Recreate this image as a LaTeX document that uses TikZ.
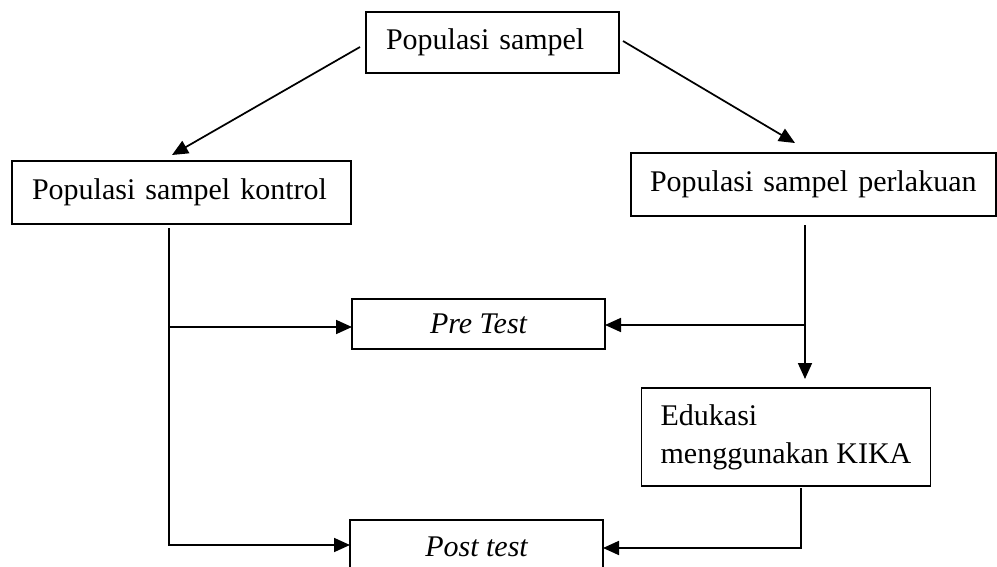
\documentclass[tikz,border=0pt]{standalone}
\usepackage{fontspec}
\setmainfont{Liberation Serif}
\usetikzlibrary{arrows.meta}
\begin{document}
\begin{tikzpicture}[x=0.75pt,y=-0.75pt,
  font=\fontsize{22.5}{28.5}\selectfont,
  box/.style={draw,line width=1.3pt,inner sep=0pt,outer sep=0pt,anchor=center},
  lbox/.style={box,align=left,inner xsep=#1*0.75pt},
  link/.style={line width=1.3pt},
  arr/.style={link,-{Triangle[length=12pt,width=10.5pt]}}]
\useasboundingbox (0,0) rectangle (997,567);

% boxes
\node[lbox=20,text width=213*0.75pt,minimum height=61*0.75pt] (pop) at (492.5,42.5) {Populasi sampel};
\node[lbox=20,text width=299*0.75pt,minimum height=63*0.75pt] (kon) at (181.5,192.5) {Populasi sampel kontrol};
\node[lbox=19,text width=327*0.75pt,minimum height=63*0.75pt] (per) at (813.5,184.5) {Populasi sampel perlakuan};
\node[box,minimum width=253*0.75pt,minimum height=50*0.75pt] (pre) at (478.5,324) {\itshape Pre Test};
\node[box,align=left,inner xsep=19*0.75pt,minimum width=288*0.75pt,minimum height=98*0.75pt] (edu) at (786,437) {Edukasi\\menggunakan KIKA};
\node[box,minimum width=253*0.75pt,minimum height=54*0.75pt] (post) at (476.5,547) {\itshape Post test};

% free ends of the connectors
\coordinate (popL) at (360,47);
\coordinate (konT) at (172,155);
\coordinate (popR) at (623,41);
\coordinate (perT) at (795,143);
\coordinate (konB) at (169,228);
\coordinate (konP) at (169,327);
\coordinate (konQ) at (169,545);
\coordinate (perB) at (805,225);
\coordinate (perP) at (805,325);
\coordinate (eduT) at (805,379);
\coordinate (eduB) at (801,488);
\coordinate (eduQ) at (801,548);

% connectors
\draw[arr] (popL) -- (konT);
\draw[arr] (popR) -- (perT);
\draw[arr] (konB) -- (konQ) -- (konQ -| post.west);
\draw[arr] (konP) -- (konP -| pre.west);
\draw[arr] (perB) -- (eduT);
\draw[arr] (perP) -- (perP -| pre.east);
\draw[arr] (eduB) -- (eduQ) -- (eduQ -| post.east);
\end{tikzpicture}
\end{document}
